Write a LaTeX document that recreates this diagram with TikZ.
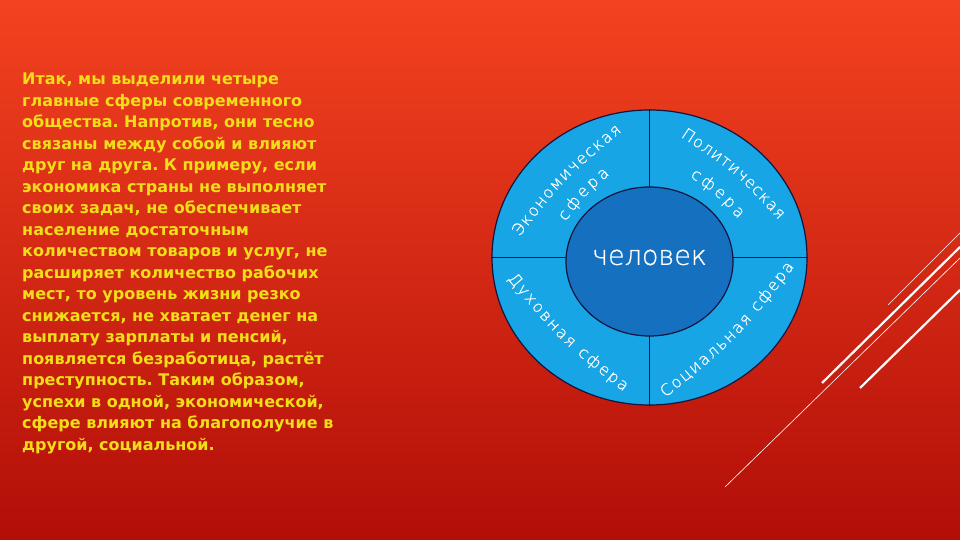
\documentclass[tikz,border=0pt]{standalone}
\usepackage{fontspec}
\setmainfont{DejaVu Sans}
\newfontfamily\arcfont{DejaVu Sans ExtraLight}[FakeBold=0.7]
\usetikzlibrary{shapes.geometric,decorations.text}
\definecolor{fonverh}{RGB}{243,66,32}
\definecolor{fonniz}{RGB}{178,14,8}
\definecolor{zhelt}{RGB}{242,222,24}
\definecolor{goluboy}{RGB}{24,165,230}
\definecolor{siniy}{RGB}{22,112,192}
\definecolor{kontur}{RGB}{20,20,60}
\tikzset{
  sfera/.style={draw=kontur,line width=1.2pt,shape=ellipse,inner sep=0pt},
  podpis/.style={decorate,decoration={text along path,text align=fit to path,raise=-4.5pt,text color=white,text={|\arcfont\fontsize{16}{16}\selectfont|#1}}},
}
\frenchspacing
\begin{document}
\begin{tikzpicture}[x=1pt,y=1pt]
	%fon
	\shade[top color=fonverh,bottom color=fonniz] (0,0) rectangle (960,540);
	\useasboundingbox (0,0) rectangle (960,540);
	%tekst
	\node[anchor=north west,inner sep=0pt,align=left,text=zhelt,font=\bfseries\fontsize{16}{21.5}\selectfont] (tekst) at (22,467) {Итак, мы выделили четыре\\главные сферы современного\\общества. Напротив, они тесно\\связаны между собой и влияют\\друг на друга. К примеру, если\\экономика страны не выполняет\\своих задач, не обеспечивает\\население достаточным\\количеством товаров и услуг, не\\расширяет количество рабочих\\мест, то уровень жизни резко\\снижается, не хватает денег на\\выплату зарплаты и пенсий,\\появляется безработица, растёт\\преступность. Таким образом,\\успехи в одной, экономической,\\сфере влияют на благополучие в\\другой, социальной.};
	%krug
	\node[sfera,fill=goluboy,minimum width=315,minimum height=295] (sfery) at (649.5,282.5) {};
	\draw[kontur,line width=1.2pt] (sfery.north)--(sfery.south) (sfery.west)--(sfery.east);
	\node[sfera,fill=siniy,minimum width=167,minimum height=149] (chel) at (649.5,278.5) {};
	\node[text=white,font=\arcfont\fontsize{27}{27}\selectfont] (slovo) at (649.5,282.5) {человек};
	%podpisi
	\path[podpis=Экономическая] (516,306) .. controls (561.8,364.6) .. (619,412);
	\path[podpis=сфера] (562,321) .. controls (581.6,347.7) .. (607,369);
	\path[podpis=Политическая] (683,407) .. controls (737.7,371) .. (782,323);
	\path[podpis=сфера] (692.5,367) .. controls (719.6,348.5) .. (741.5,324);
	\path[podpis=Духовная сфера] (510.7,264.2) .. controls (562.9,202.3) .. (626.3,151.8);
	\path[podpis=Социальная сфера] (662.8,145.7) .. controls (734,203.9) .. (790.9,276);
	%linii
	\foreach \xa/\ya/\xb/\yb/\tol in {960/307/888/235/0.6,960/293/822/157/2.2,960/282/725/53/0.6,960/250/860/152/2.2}
	\draw[white,line width=\tol pt] (\xa,\ya)--(\xb,\yb);
\end{tikzpicture}
\end{document}
